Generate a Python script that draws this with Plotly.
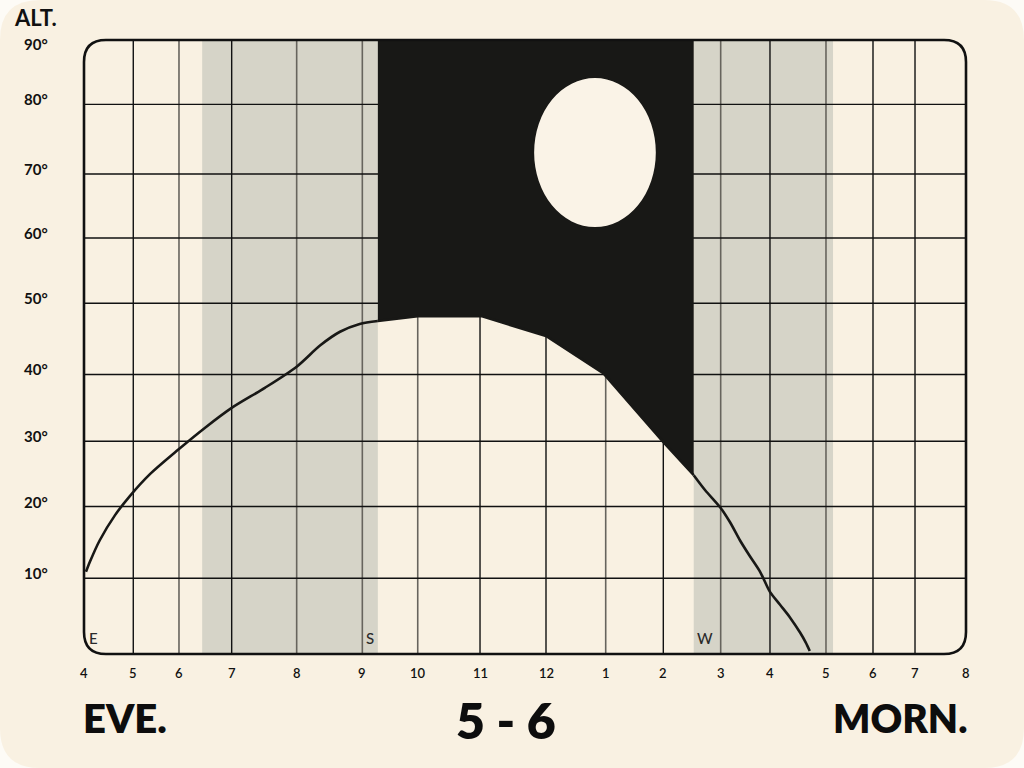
import numpy as np
import plotly.graph_objects as go

# ---------------- data ----------------
HOUR_LABELS = ["4", "5", "6", "7", "8", "9", "10", "11", "12", "1", "2", "3", "4", "5", "6", "7", "8"]
# hand-drawn position of every hour line on a 0-16 axis
HOUR_POS = [0, 0.894, 1.723, 2.679, 3.858, 5.049, 6.054, 7.184, 8.381, 9.464,
            10.509, 11.550, 12.444, 13.460, 14.313, 15.075, 16]
ALT_TICKS = [0, 10, 20, 30, 40, 50, 60, 70, 80, 90]
# hand-drawn position of every 10-degree line on a 0-90 axis
ALT_POS = [0, 11.10, 21.62, 31.18, 40.97, 51.41, 60.98, 70.36, 80.57, 90]

# altitude curve (hours after 4 pm, degrees)
CURVE_HOURS = [0.04, 0.12, 0.32, 0.63, 0.93, 1.37, 1.98, 2.49, 3.00, 3.51, 4.00, 4.36, 4.66,
               4.96, 5.28, 6.00, 7.02, 8.00, 8.97, 9.99, 10.53, 10.73, 10.99, 11.19, 11.39,
               11.59, 11.80, 12.00, 12.18, 12.36, 12.54, 12.64, 12.71]
CURVE_ALT = [10.9, 12.3, 15.3, 18.8, 21.6, 25.0, 28.7, 32.0, 35.0, 38.0, 41.1, 44.1, 46.0,
             47.1, 47.5, 48.2, 48.2, 45.4, 40.1, 30.0, 24.8, 22.5, 19.9, 17.8, 15.3,
             13.1, 10.9, 8.2, 6.5, 4.8, 2.8, 1.5, 0.4]

TWILIGHT_BANDS = [(2.44, 5.28), (10.53, 13.15)]
DARK_WINDOW = (5.28, 10.53)
MOON = dict(h0=7.82, h1=9.87, a0=61.7, a1=84.1)

COMPASS_LABELS = ["E", "S", "W"]
COMPASS_HOURS = [0.2, 5.14, 10.73]

GRAY_LINE_HOURS = [2, 4, 5, 6, 9, 11, 13]
BLACK_LINE_HOURS = [1, 3, 7, 8, 10, 12, 14, 15]

# ---------------- styles ----------------
CREAM = "#f9f1e2"
BAND = "#d6d4c8"
INK = "#181816"
GRAYLINE = "#67645d"
MOONC = "#faf3e7"
FONT = "Lato"

W, H = 1024, 768
L, R, T, B = 84, 966, 40, 654


def xw(h):
    return np.interp(h, np.arange(len(HOUR_POS)), HOUR_POS)


def yw(a):
    return np.interp(a, ALT_TICKS, ALT_POS)


def px_x(px):
    return (px - L) / (R - L)


def px_y(py):
    return (B - py) / (B - T)


def rounded_path(x0, y0, x1, y1, rx, ry):
    return (f"M {x0+rx},{y0} L {x1-rx},{y0} Q {x1},{y0} {x1},{y0+ry} "
            f"L {x1},{y1-ry} Q {x1},{y1} {x1-rx},{y1} L {x0+rx},{y1} "
            f"Q {x0},{y1} {x0},{y1-ry} L {x0},{y0+ry} Q {x0},{y0} {x0+rx},{y0} Z")


fig = go.Figure()

# twilight bands
for a, b in TWILIGHT_BANDS:
    fig.add_trace(go.Scatter(x=[xw(a), xw(b), xw(b), xw(a)], y=[0, 0, 90, 90],
                             fill="toself", fillcolor=BAND, line=dict(width=0),
                             mode="lines", hoverinfo="skip"))

# grid lines
def vlines(hours):
    xs, ys = [], []
    for h in hours:
        xs += [xw(h), xw(h), None]
        ys += [0, 90, None]
    return xs, ys

gx, gy = vlines(GRAY_LINE_HOURS)
fig.add_trace(go.Scatter(x=gx, y=gy, mode="lines", line=dict(color=GRAYLINE, width=1.6), hoverinfo="skip"))
bx, by = vlines(BLACK_LINE_HOURS)
fig.add_trace(go.Scatter(x=bx, y=by, mode="lines", line=dict(color="#111111", width=1.4), hoverinfo="skip"))
hx, hy = [], []
for a in ALT_TICKS[1:-1]:
    hx += [0, 16, None]
    hy += [yw(a), yw(a), None]
fig.add_trace(go.Scatter(x=hx, y=hy, mode="lines", line=dict(color="#111111", width=1.4), hoverinfo="skip"))

# dark sky region above the curve
ch = np.array(CURVE_HOURS)
ca = np.array(CURVE_ALT)
eps = 1e-9
sel = (ch >= DARK_WINDOW[0] - eps) & (ch <= DARK_WINDOW[1] + eps)
dx = [xw(DARK_WINDOW[0]), xw(DARK_WINDOW[1])] + list(xw(ch[sel][::-1]))
dy = [91, 91] + list(yw(ca[sel][::-1]))
fig.add_trace(go.Scatter(x=dx, y=dy, fill="toself", fillcolor=INK, line=dict(width=0),
                         mode="lines", hoverinfo="skip"))

# curve: smooth outside the dark window, straight segments inside it
left = ch <= DARK_WINDOW[0] + eps
right = ch >= DARK_WINDOW[1] - eps
for mask, shape in [(left, "spline"), (sel, "linear"), (right, "spline")]:
    fig.add_trace(go.Scatter(x=xw(ch[mask]), y=yw(ca[mask]), mode="lines",
                             line=dict(color=INK, width=2.6, shape=shape, smoothing=0.8),
                             hoverinfo="skip"))

shapes = []
# page background
shapes.append(dict(type="path", xref="paper", yref="paper", layer="below",
                   path=rounded_path(px_x(0), px_y(768), px_x(1024), px_y(0), 40 / (R - L), 40 / (B - T)),
                   fillcolor=CREAM, line=dict(width=0)))
# moon
shapes.append(dict(type="circle", xref="x", yref="y", layer="above",
                   x0=xw(MOON["h0"]), x1=xw(MOON["h1"]), y0=yw(MOON["a0"]), y1=yw(MOON["a1"]),
                   fillcolor=MOONC, line=dict(width=0)))
# rounded plot border
shapes.append(dict(type="path", xref="paper", yref="paper", layer="above",
                   path=rounded_path(0, 0, 1, 1, 22 / (R - L), 22 / (B - T)),
                   line=dict(color="#111111", width=2.6)))

ann = []
ann.append(dict(text="ALT.", xref="paper", yref="paper", x=px_x(35), y=px_y(18),
                xanchor="center", yanchor="middle",
                showarrow=False, font=dict(family=FONT, size=22, color="#111", weight=700)))
for a in ALT_TICKS[1:]:
    ann.append(dict(text=f"{a}°", xref="paper", yref="y", x=px_x(36), y=yw(a),
                    yshift=(-4 if a == 90 else 5),
                    xanchor="center", yanchor="middle",
                    showarrow=False, font=dict(family=FONT, size=15, color="#111", weight=700)))
for i, lab in enumerate(HOUR_LABELS):
    ann.append(dict(text=lab, xref="x", yref="paper", x=xw(i), y=px_y(673),
                    xanchor="center", yanchor="middle",
                    showarrow=False, font=dict(family=FONT, size=13, color="#111", weight=600)))
for lab, h in zip(COMPASS_LABELS, COMPASS_HOURS):
    ann.append(dict(text=lab, xref="x", yref="paper", x=xw(h), y=px_y(638),
                    xanchor="center", yanchor="middle",
                    showarrow=False, font=dict(family=FONT, size=15, color="#2a2a2a", weight=500)))
ann.append(dict(text="EVE.", xref="paper", yref="paper", x=px_x(81), y=px_y(718),
                xanchor="left", yanchor="middle",
                showarrow=False, font=dict(family=FONT, size=40, color="#0d0d0d", weight=800)))
ann.append(dict(text="5 - 6", xref="paper", yref="paper", x=px_x(506), y=px_y(720),
                xanchor="center", yanchor="middle",
                showarrow=False, font=dict(family=FONT, size=50, color="#0d0d0d", weight=800)))
ann.append(dict(text="MORN.", xref="paper", yref="paper", x=px_x(969), y=px_y(718),
                xanchor="right", yanchor="middle",
                showarrow=False, font=dict(family=FONT, size=39, color="#0d0d0d", weight=800)))

fig.update_layout(
    width=W, height=H, autosize=False,
    margin=dict(l=L, r=W - R, t=T, b=H - B, pad=0),
    paper_bgcolor="#fdfbf6", plot_bgcolor="rgba(0,0,0,0)",
    showlegend=False, shapes=shapes, annotations=ann,
    xaxis=dict(range=[0, 16], visible=False, fixedrange=True),
    yaxis=dict(range=[0, 90], visible=False, fixedrange=True),
)

fig.write_html("out.html", config=dict(displayModeBar=False),
               post_script="document.body.style.margin='0';document.body.style.overflow='hidden';")
